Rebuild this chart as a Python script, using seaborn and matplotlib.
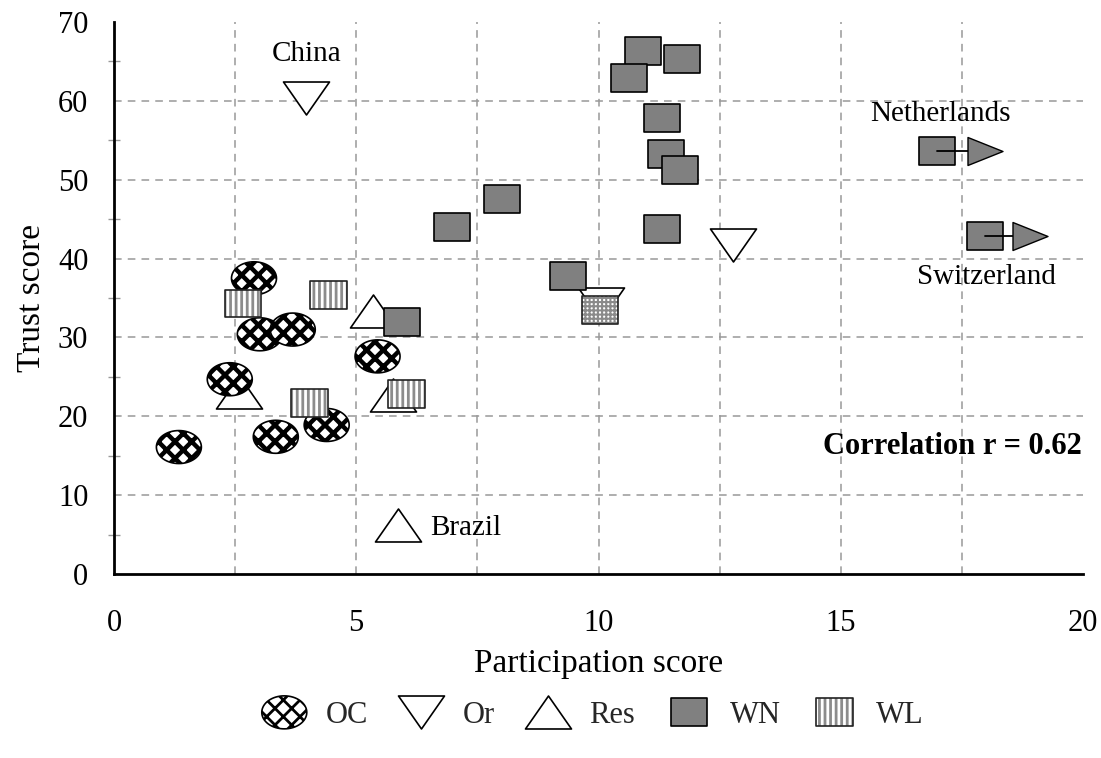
import numpy as np
import matplotlib
matplotlib.use("Agg")
import matplotlib.pyplot as plt
from matplotlib.path import Path
from matplotlib.legend_handler import HandlerTuple
import seaborn as sns

# values
oc_x = [2.89, 3.01, 3.69, 2.39, 1.34, 3.34, 4.39, 5.44]
oc_y = [37.5, 30.4, 31.0, 24.7, 16.1, 17.4, 18.9, 27.6]

or_x = [3.97, 10.06, 12.78]
or_y = [60.3, 34.2, 41.7]

res_x = [5.35, 2.59, 5.76, 5.86]
res_y = [33.3, 23.1, 22.7, 6.2]

wl_x = [2.66, 4.43, 4.04, 6.04]
wl_y = [34.3, 35.4, 21.7, 22.8]

wn_x = [5.94, 10.91, 11.73, 10.62, 11.32, 11.40, 11.69, 11.32, 6.97, 8.00, 9.37, 16.99, 17.98]
wn_y = [31.9, 66.3, 65.3, 62.9, 57.8, 53.3, 51.2, 43.7, 44.0, 47.6, 37.8, 53.7, 42.8]

chk_x = [10.03]
chk_y = [33.5]

# off-scale arrows (Netherlands, Switzerland)
arrow_y = [53.7, 42.8]
arrow_from = [16.99, 17.98]
arrow_to = [17.97, 18.90]

label_names = ["China", "Brazil", "Netherlands", "Switzerland"]
label_x = [3.97, 6.52, 17.05, 18.0]
label_y = [65.9, 5.8, 58.3, 37.7]
label_ha = ["center", "left", "center", "center"]

legend_labels = ["OC", "Or", "Res", "WN", "WL"]

grid_x = [2.5, 5, 7.5, 10, 12.5, 15, 17.5]
grid_y = [10, 20, 30, 40, 50, 60]

sns.set_theme(style="white")
plt.rcParams["font.family"] = ["Liberation Serif", "DejaVu Serif"]
plt.rcParams["hatch.linewidth"] = 2.0


def ellipse(ry):
    t = np.linspace(0, 2 * np.pi, 65)
    return Path(np.column_stack([np.cos(t), ry * np.sin(t)]), closed=True)


def rect(r):
    return Path([(-1, -r), (1, -r), (1, r), (-1, r), (-1, -r)], closed=True)


def tri(h, down=False):
    s = -1 if down else 1
    return Path([(-1, -s * h), (1, -s * h), (0, s * h), (-1, -s * h)], closed=True)


def tri_right(h):
    return Path([(-1, -h), (1, 0), (-1, h), (-1, -h)], closed=True)


def pts(x, y, marker, s, face, edge, lw, hatch=None, hlw=None):
    sns.scatterplot(x=x, y=y, ax=ax, marker=marker, s=s, color=face,
                    edgecolor=edge, linewidth=lw, zorder=3, clip_on=False)
    coll = ax.collections[-1]
    if hatch:
        coll.set_hatch(hatch)
        if hlw is not None and hasattr(coll, "set_hatch_linewidth"):
            coll.set_hatch_linewidth(hlw)
    return coll


fig = plt.figure(figsize=(11.01, 7.58), dpi=100)
ax = fig.add_axes([0.1035, 0.2427, 0.8802, 0.7283])

# dashed grid, skipping the frame edges
ax.vlines(grid_x, 0, 70, colors="#999999", linestyles=(0, (5, 4)), lw=1.1, zorder=1)
ax.hlines(grid_y, 0, 20, colors="#999999", linestyles=(0, (5, 4)), lw=1.1, zorder=1)

m_ell = ellipse(0.733)
m_rect = rect(0.76)
m_up = tri(0.717)
m_down = tri(0.717, down=True)

h_or = pts(or_x, or_y, m_down, 1097, "white", "black", 1.2)
h_res = pts(res_x, res_y, m_up, 1097, "white", "black", 1.2)
h_oc = pts(oc_x, oc_y, m_ell, 1050, "white", "black", 1.2, hatch="xx", hlw=3.2)
h_wl1 = pts(wl_x, wl_y, m_rect, 690, "white", "#8c8c8c", 0.0, hatch="|||", hlw=2.0)
h_wl2 = pts(wl_x, wl_y, m_rect, 690, "none", "#222222", 1.2)
h_wn = pts(wn_x, wn_y, m_rect, 672, "#808080", "black", 1.2)
pts(chk_x, chk_y, m_rect, 690, "white", "#8a8a8a", 0.0, hatch="++++", hlw=1.5)
pts(chk_x, chk_y, m_rect, 690, "none", "#222222", 1.2)

for y0, xa, xb in zip(arrow_y, arrow_from, arrow_to):
    ax.plot([xa, xb], [y0, y0], color="black", lw=1.3, zorder=3)
pts(arrow_to, arrow_y, tri_right(0.8), 635, "#808080", "black", 1.0)

for name, tx, ty, ha in zip(label_names, label_x, label_y, label_ha):
    ax.text(tx, ty, name, ha=ha, va="center", fontsize=21, color="black")

ax.text(19.97, 16.2, "Correlation r = 0.62", ha="right", va="center",
        fontsize=22, fontweight="bold", color="black")

ax.set_xlim(0, 20)
ax.set_ylim(0, 70)
ax.set_xticks([0, 5, 10, 15, 20])
ax.set_xticks([2.5, 7.5, 12.5, 17.5], minor=True)
ax.set_yticks(range(0, 71, 10))
ax.set_yticks(range(5, 70, 10), minor=True)

ax.tick_params(axis="x", which="both", direction="inout", length=12, width=1,
               color="#999999", labelsize=22, pad=19, labelcolor="black")
ax.tick_params(axis="y", which="major", direction="inout", length=19, width=1,
               color="#999999", labelsize=22, pad=9, labelcolor="black")
ax.tick_params(axis="y", which="minor", direction="inout", length=8, width=1,
               color="#999999", left=True)
ax.grid(False)

for side in ["top", "right"]:
    ax.spines[side].set_visible(False)
for side in ["left", "bottom"]:
    ax.spines[side].set_color("black")
    ax.spines[side].set_linewidth(2.0)

ax.set_xlabel("Participation score", fontsize=24, labelpad=8, color="black")
ax.set_ylabel("Trust score", fontsize=24, labelpad=8, color="black")

fig.legend([h_oc, h_or, h_res, h_wn, (h_wl1, h_wl2)], legend_labels,
           handler_map={tuple: HandlerTuple(ndivide=1, pad=0)},
           loc="center", bbox_to_anchor=(0.538, 0.056), ncol=5, frameon=False,
           fontsize=22, handlelength=1.5, handletextpad=0.6,
           columnspacing=1.0, scatterpoints=1, scatteryoffsets=[0.5])

fig.savefig("out.png", dpi=100)
